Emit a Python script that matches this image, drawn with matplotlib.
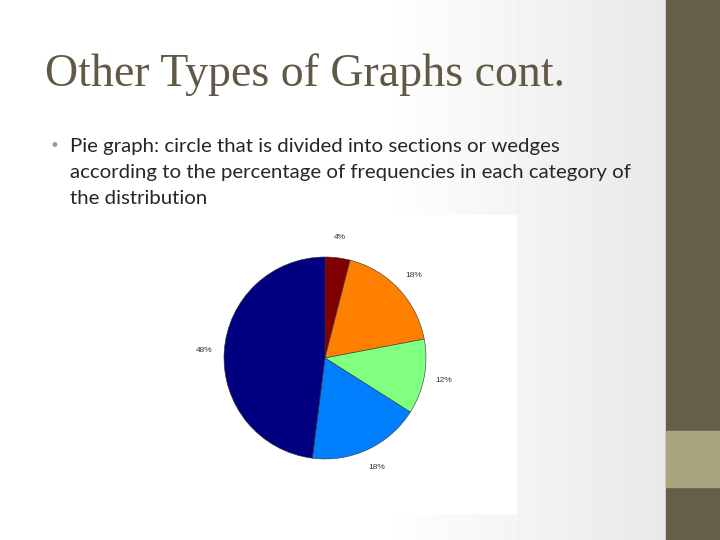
import matplotlib.pyplot as plt
import numpy as np
from matplotlib.patches import Rectangle

# pie data (clockwise from the top)
shares = [4, 18, 12, 18, 48]
sliceColors = ["#800000", "#ff8000", "#80ff80", "#0080ff", "#000080"]

titleText = "Other Types of Graphs cont."
bodyLines = ["Pie graph: circle that is divided into sections or wedges",
             "according to the percentage of frequencies in each category of",
             "the distribution"]

W, H = 720, 540
fig = plt.figure(figsize=(7.2, 5.4), dpi=100)

# slide background, fading to grey towards the right bar
bg = fig.add_axes([0, 0, 1, 1])
bg.set_axis_off()
xs = np.arange(W)
shade = 1 - 0.09 * np.clip((xs - 380) / 286.0, 0, 1)
grad = np.tile(shade, (H, 1))
bg.imshow(grad, cmap="gray", vmin=0, vmax=1, extent=[0, W, H, 0], aspect="auto")
bg.set_xlim(0, W)
bg.set_ylim(H, 0)

# right side bar
bg.add_patch(Rectangle((666, 0), 54, 540, color="#665e48"))
bg.add_patch(Rectangle((666, 431), 54, 56, color="#a8a67f"))

# white box behind the pie picture
bg.add_patch(Rectangle((190, 215), 326, 298, color="white"))

# title
bg.text(45, 86, titleText, fontsize=33, family="Liberation Serif", color="#5f5945",
        va="baseline", ha="left")

# bullet text
bg.text(50, 151, "\u2022", fontsize=12, color="#a09a80", va="baseline")
for i, line in enumerate(bodyLines):
    bg.text(70, 152 + i * 26, line, fontsize=14.7, family="Lato", color="#262626",
            va="baseline", ha="left")

# pie
cx, cy, r = 325, 358, 101
ax = fig.add_axes([(cx - r) / W, 1 - (cy + r) / H, 2 * r / W, 2 * r / H])
ax.pie(shares, colors=sliceColors, startangle=90, counterclock=False,
       autopct="%1.0f%%", pctdistance=1.2,
       textprops=dict(fontsize=6, color="#333333", family="Liberation Sans"),
       wedgeprops=dict(edgecolor="#333333", linewidth=0.4))
ax.set_xlim(-1, 1)
ax.set_ylim(-1, 1)

fig.savefig("out.png", dpi=100)
